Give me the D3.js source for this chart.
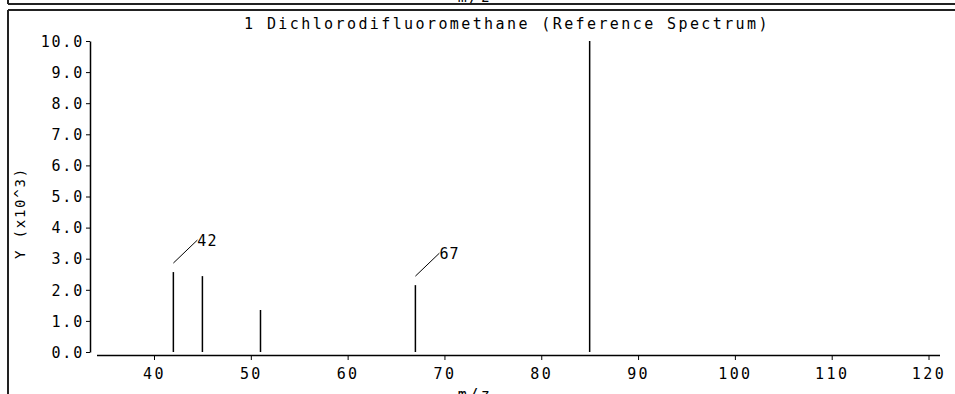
<!DOCTYPE html>
<html><head><meta charset="utf-8">
<script src="https://cdn.jsdelivr.net/npm/d3@7"></script>
<style>
html,body{margin:0;padding:0;background:#fff;}
svg{display:block;}
text{font-family:"DejaVu Sans Mono",monospace;fill:#000;}
</style></head>
<body>
<script>
const title = "1 Dichlorodifluoromethane (Reference Spectrum)";
const mz = [42, 45, 51, 67, 85];
const intensity = [2.57, 2.44, 1.35, 2.15, 10.0];
const labeledPeaks = [42, 67];
const xTicks = [40, 50, 60, 70, 80, 90, 100, 110, 120];
const yTicks = [0, 1, 2, 3, 4, 5, 6, 7, 8, 9, 10];
const xLabel = "m/z";
const yLabel = "Y (x10^3)";

const W = 955, H = 394;
const svg = d3.select("body").append("svg").attr("width", W).attr("height", H);

const x = d3.scaleLinear().domain([40, 120]).range([154, 928.5]);
const y = d3.scaleLinear().domain([0, 10]).range([352, 41]);
const xMin = x.invert(97), xMax = x.invert(940);

const fs = 15, ls = 2.4;

// frames
svg.append("line").attr("x1", 8).attr("x2", W).attr("y1", 4).attr("y2", 4).attr("stroke", "#222").attr("stroke-width", 2);
svg.append("line").attr("x1", 8).attr("x2", 8).attr("y1", 0).attr("y2", 4).attr("stroke", "#222").attr("stroke-width", 2);
svg.append("line").attr("x1", 8).attr("x2", W).attr("y1", 10).attr("y2", 10).attr("stroke", "#222").attr("stroke-width", 2);
svg.append("line").attr("x1", 8).attr("x2", 8).attr("y1", 10).attr("y2", H).attr("stroke", "#222").attr("stroke-width", 2);
svg.append("text").attr("x", 475).attr("y", 2).attr("text-anchor", "middle")
  .style("font-size", fs + "px").style("letter-spacing", ls + "px").text(xLabel);

// title
svg.append("text").attr("x", 507).attr("y", 29).attr("text-anchor", "middle")
  .style("font-size", fs + "px").style("letter-spacing", ls + "px").text(title);

// x axis
const xAxis = d3.axisBottom(x).tickValues(xTicks).tickSize(5).tickSizeOuter(0).tickFormat(d3.format("d"));
const gx = svg.append("g").attr("transform", "translate(0,355)").call(xAxis);
gx.select(".domain").attr("d", `M${x(xMin)},0.5H${x(xMax)}`).attr("stroke", "#000").attr("stroke-width", 1.5);
gx.selectAll(".tick line").attr("stroke", "#000");
gx.selectAll(".tick text").attr("y", 24).attr("dy", 0)
  .style("font-size", fs + "px").style("letter-spacing", ls + "px").style("font-family", '"DejaVu Sans Mono",monospace');

// y axis
const yAxis = d3.axisLeft(y).tickValues(yTicks).tickSize(4).tickSizeOuter(0).tickFormat(d3.format(".1f"));
const gy = svg.append("g").attr("transform", "translate(90,0)").call(yAxis);
gy.select(".domain").attr("stroke", "#000").attr("stroke-width", 1.5);
gy.selectAll(".tick line").attr("stroke", "#000");
gy.selectAll(".tick text").attr("x", -6).attr("dy", "0.35em")
  .style("font-size", fs + "px").style("letter-spacing", "1.8px").style("font-family", '"DejaVu Sans Mono",monospace');

// y label
svg.append("text").attr("transform", "translate(25,213) rotate(-90)").attr("text-anchor", "middle")
  .style("font-size", (fs - 1) + "px").style("letter-spacing", "1.8px").text(yLabel);

// x label (cut off)
svg.append("text").attr("x", 475).attr("y", 400).attr("text-anchor", "middle")
  .style("font-size", fs + "px").style("letter-spacing", ls + "px").text(xLabel);

// peaks
const data = mz.map((m, i) => ({ m, v: intensity[i] }));
svg.append("g").selectAll("line").data(data).join("line")
  .attr("x1", d => x(d.m)).attr("x2", d => x(d.m))
  .attr("y1", y(0)).attr("y2", d => y(d.v))
  .attr("stroke", "#000").attr("stroke-width", 1.5);

// annotations
const ann = data.filter(d => labeledPeaks.includes(d.m));
const ga = svg.append("g");
ga.selectAll("line").data(ann).join("line")
  .attr("x1", d => x(d.m)).attr("y1", d => y(d.v) - 9)
  .attr("x2", d => x(d.m) + 24).attr("y2", d => y(d.v) - 32)
  .attr("stroke", "#000").attr("stroke-width", 1);
ga.selectAll("text").data(ann).join("text")
  .attr("x", d => x(d.m) + 24).attr("y", d => y(d.v) - 26)
  .style("font-size", fs + "px").style("letter-spacing", "1px")
  .text(d => d.m);
</script>
</body></html>
